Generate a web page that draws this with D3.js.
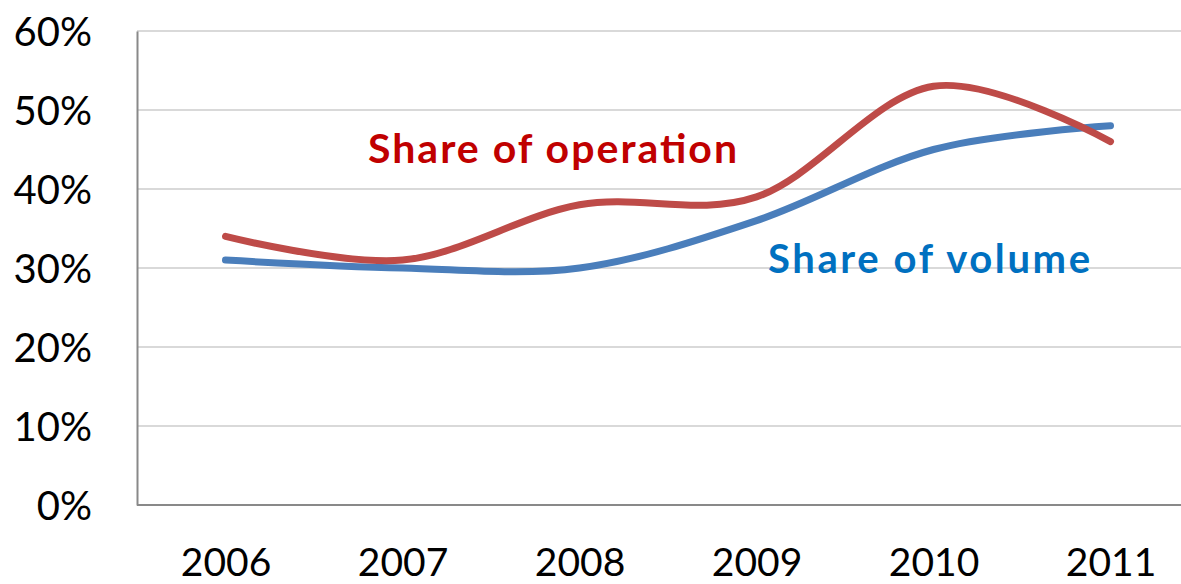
<!DOCTYPE html>
<html><head><meta charset="utf-8">
<script src="https://cdn.jsdelivr.net/npm/d3@7"></script>
<style>body{margin:0;background:#fff;} svg{display:block;}</style>
</head><body>
<svg id="chart" width="1181" height="584"></svg>
<script>
const years = ["2006","2007","2008","2009","2010","2011"];
const shareOperation = [34, 31, 38, 39, 53, 46];
const shareVolume = [31, 30, 30, 36, 45, 48];
const yTicks = [0, 10, 20, 30, 40, 50, 60];

const svg = d3.select("#chart");
const plotLeft = 137, plotBottom = 505, plotTop = 31, catW = 177;
const x = d3.scalePoint().domain(years).range([plotLeft + catW/2, plotLeft + catW*5.5]);
const y = d3.scaleLinear().domain([0, 60]).range([plotBottom, plotTop]);
const font = "Lato, 'Open Sans', sans-serif";

// gridlines
svg.append("g").selectAll("line").data(yTicks.filter(d => d > 0)).join("line")
  .attr("x1", plotLeft).attr("x2", 1181).attr("y1", d => y(d)).attr("y2", d => y(d))
  .attr("stroke", "#d9d9d9").attr("stroke-width", 2);

// axes
const yAxis = svg.append("g").attr("transform", `translate(${plotLeft},0)`)
  .call(d3.axisLeft(y).tickValues(yTicks).tickFormat(d => d + "%").tickSize(0).tickPadding(45));
yAxis.select(".domain").attr("stroke", "#898989").attr("stroke-width", 2);
yAxis.selectAll("text").attr("font-family", font).attr("font-size", 40).attr("fill", "#000").attr("dy", "0.36em");

const xAxis = svg.append("g").attr("transform", `translate(0,${plotBottom})`)
  .call(d3.axisBottom(x).tickSize(0));
xAxis.select(".domain").attr("d", `M${plotLeft},0H1181`).attr("stroke", "#898989").attr("stroke-width", 2);
xAxis.selectAll("text").attr("font-family", font).attr("font-size", 39).attr("fill", "#000")
  .attr("dy", null).attr("y", 71);

const line = d3.line().x((d, i) => x(years[i])).y(d => y(d)).curve(d3.curveCardinal.tension(0));

svg.append("path").datum(shareVolume).attr("d", line).attr("fill", "none")
  .attr("stroke", "#4A7EBB").attr("stroke-width", 7).attr("stroke-linecap", "round");
svg.append("path").datum(shareOperation).attr("d", line).attr("fill", "none")
  .attr("stroke", "#BE4B48").attr("stroke-width", 7).attr("stroke-linecap", "round");

svg.append("text").attr("x", 368).attr("y", 163).text("Share of operation")
  .attr("font-family", font).attr("font-weight", "bold").attr("font-size", 41).attr("fill", "#C00000")
  .attr("textLength", 369).attr("lengthAdjust", "spacing");
svg.append("text").attr("x", 768).attr("y", 273).text("Share of volume")
  .attr("font-family", font).attr("font-weight", "bold").attr("font-size", 40).attr("fill", "#0070C0")
  .attr("textLength", 322).attr("lengthAdjust", "spacing");
</script>
</body></html>
